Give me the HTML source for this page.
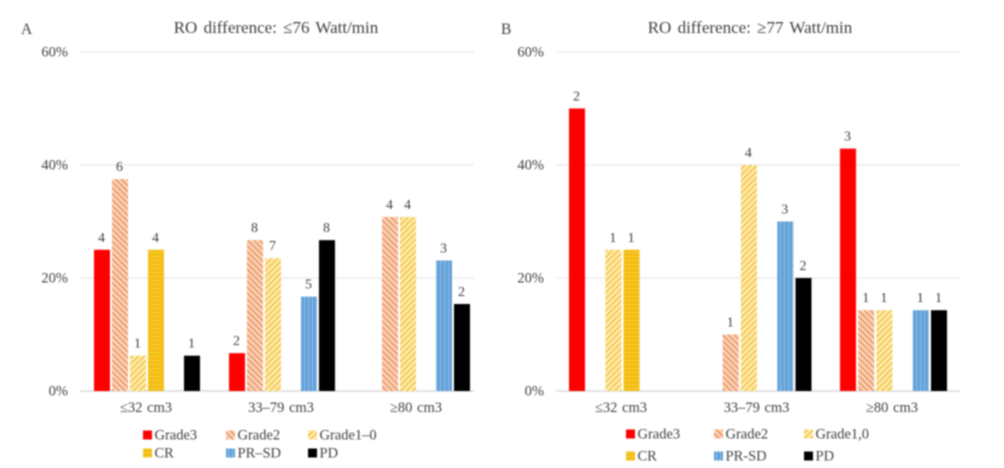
<!DOCTYPE html>
<html lang="en">
<head>
<meta charset="utf-8">
<title>RO difference charts</title>
<style>
html,body{margin:0;padding:0;background:#fff;width:1004px;height:468px;overflow:hidden}
svg{display:block;filter:blur(.75px)}
text{font-family:"Liberation Serif",serif;fill:#404040}
</style>
</head>
<body>
<svg id="chart" xmlns="http://www.w3.org/2000/svg" width="1004" height="468" viewBox="0 0 1004 468">
<defs>
<pattern id="h-grade2" patternUnits="userSpaceOnUse" width="4.2" height="4.2" patternTransform="rotate(-45)"><rect width="4.2" height="4.2" fill="#fbdcc6"/><rect width="2.2" height="4.2" fill="#ee9f70"/></pattern>
<pattern id="h-grade1" patternUnits="userSpaceOnUse" width="4.2" height="4.2" patternTransform="rotate(45)"><rect width="4.2" height="4.2" fill="#fff0c0"/><rect width="2.2" height="4.2" fill="#f5cb55"/></pattern>
<pattern id="h-cr" patternUnits="userSpaceOnUse" width="4" height="4"><rect width="4" height="4" fill="#f2bd10"/><rect width="4" height="1.2" fill="#f7c93a"/></pattern>
<pattern id="h-pr" patternUnits="userSpaceOnUse" width="4" height="4"><rect width="4" height="4" fill="#5f9fd8"/><rect width="1.2" height="4" fill="#8fbce6"/></pattern>
</defs>
<g id="panels"></g>
</svg>
<script>
const categories = ["≤32 cm3", "33–79 cm3", "≥80 cm3"];
const yTickValues = [0, 20, 40, 60];
const seriesNamesA = ["Grade3", "Grade2", "Grade1–0", "CR", "PR–SD", "PD"];
const seriesNamesB = ["Grade3", "Grade2", "Grade1,0", "CR", "PR-SD", "PD"];
const grade3A = [25, 6.7, null];
const grade2A = [37.5, 26.7, 30.8];
const grade1A = [6.25, 23.5, 30.8];
const crA = [25, null, null];
const prA = [null, 16.7, 23.1];
const pdA = [6.25, 26.7, 15.4];
const grade3LabelsA = [4, 2, null];
const grade2LabelsA = [6, 8, 4];
const grade1LabelsA = [1, 7, 4];
const crLabelsA = [4, null, null];
const prLabelsA = [null, 5, 3];
const pdLabelsA = [1, 8, 2];
const grade3B = [50, null, 42.9];
const grade2B = [null, 10, 14.3];
const grade1B = [25, 40, 14.3];
const crB = [25, null, null];
const prB = [null, 30, 14.3];
const pdB = [null, 20, 14.3];
const grade3LabelsB = [2, null, 3];
const grade2LabelsB = [null, 1, 1];
const grade1LabelsB = [1, 4, 1];
const crLabelsB = [1, null, null];
const prLabelsB = [null, 3, 1];
const pdLabelsB = [null, 2, 1];

const NS = "http://www.w3.org/2000/svg";
const root = document.getElementById("panels");
const fills = ["#fe0000", "url(#h-grade2)", "url(#h-grade1)", "url(#h-cr)", "url(#h-pr)", "#000000"];
const keys = ["grade3", "grade2", "grade1", "cr", "pr", "pd"];

function make(tag, attrs, parent, txt) {
  const el = document.createElementNS(NS, tag);
  for (const k in attrs) el.setAttribute(k, attrs[k]);
  if (txt !== undefined) el.textContent = txt;
  parent.appendChild(el);
  return el;
}
function yScale(v) { return 391 - v * (339 / 60); }

function drawPanel(cfg) {
  const g = make("g", {}, root);
  
  

  const letter = make("text", {x: cfg.letterX, y: 34, "font-size": 15.5}, g, cfg.letter);
  
  

  const title = make("text", {x: cfg.titleX, y: 33, "font-size": 17, "text-anchor": "middle", "word-spacing": "2"}, g, cfg.title);
  
  

  yTickValues.forEach(function (t) {
    const line = make("line", {x1: cfg.x0, x2: cfg.x1, y1: yScale(t), y2: yScale(t), stroke: t === 0 ? "#d9d9d9" : "#ececec", "stroke-width": 1.4}, g);
    
    
    const lab = make("text", {x: cfg.x0 - 12, y: yScale(t) + 4.5, "font-size": 14.5, "text-anchor": "end"}, g, t + "%");
    
    
  });

  categories.forEach(function (c, ci) {
    const bandX = cfg.first + ci * cfg.band;
    const cat = make("text", {x: bandX + 52, y: 412, "font-size": 14.5, "text-anchor": "middle", "word-spacing": "1"}, g, c);
    
    

    cfg.series.forEach(function (vals, si) {
      const v = vals[ci];
      if (v === null) return;
      const bx = bandX + si * cfg.step;
      const by = yScale(v);
      const bar = make("rect", {x: bx, y: by, width: 16, height: 391 - by, fill: fills[si]}, g);
      
      
      const val = make("text", {x: bx + 7.5, y: by - 8, "font-size": 14, "text-anchor": "middle"}, g, cfg.labels[si][ci]);
      
      
    });
  });

  cfg.names.forEach(function (n, i) {
    const col = i % 3, row = Math.floor(i / 3);
    const sx = cfg.legendX[col], cy = cfg.legendY[row];
    const sw = make("rect", {x: sx, y: cy - 4.5, width: 9, height: 9, fill: fills[i]}, g);
    
    
    const tx = make("text", {x: sx + 11.5, y: cy + 4.5, "font-size": 14.5}, g, n);
    
    
  });
}

drawPanel({
  id: "a", letter: "A", letterX: 21, title: "RO difference: ≤76 Watt/min", titleX: 276,
  x0: 80, x1: 474, first: 94, band: 135, step: 18,
  series: [grade3A, grade2A, grade1A, crA, prA, pdA],
  labels: [grade3LabelsA, grade2LabelsA, grade1LabelsA, crLabelsA, prLabelsA, pdLabelsA],
  names: seriesNamesA, legendX: [143, 226, 308], legendY: [435, 453]
});
drawPanel({
  id: "b", letter: "B", letterX: 501, title: "RO difference: ≥77 Watt/min", titleX: 750,
  x0: 556, x1: 960, first: 569, band: 135.5, step: 18.2,
  series: [grade3B, grade2B, grade1B, crB, prB, pdB],
  labels: [grade3LabelsB, grade2LabelsB, grade1LabelsB, crLabelsB, prLabelsB, pdLabelsB],
  names: seriesNamesB, legendX: [626, 714, 804], legendY: [434, 456]
});
</script>
</body>
</html>
